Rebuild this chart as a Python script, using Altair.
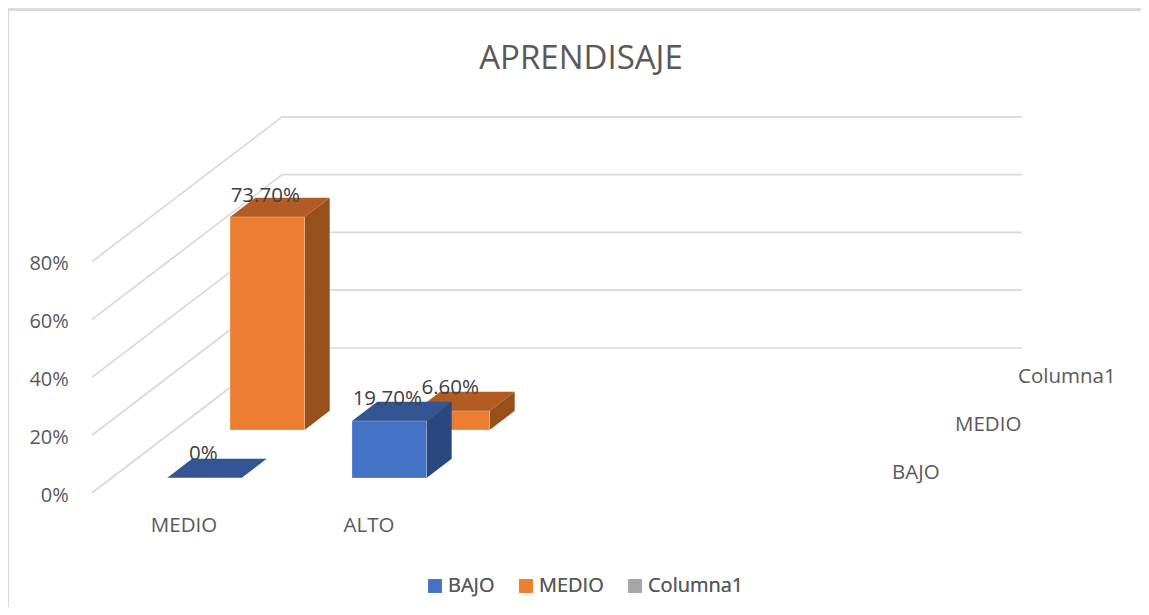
import altair as alt
import pandas as pd

TITLE = "APRENDISAJE"
categories = ["MEDIO", "ALTO"]
series = ["BAJO", "MEDIO", "Columna1"]
bajo = [0.0, 19.7]
medio = [73.7, 6.6]
columna1 = [None, None]
bar_labels = {"BAJO": ["0%", "19.70%"], "MEDIO": ["73.70%", "6.60%"]}
ticks = [0, 20, 40, 60, 80]
tick_labels = ["0%", "20%", "40%", "60%", "80%"]
series_colors = ["#4472C4", "#ED7D31", "#A5A5A5"]
top_colors = {"BAJO": "#335593", "MEDIO": "#B35B22"}
side_colors = {"BAJO": "#2A4780", "MEDIO": "#974F1B"}
TEXT = "#595959"
LABEL = "#404040"
GRID = "#D9D9D9"
FONT = "Open Sans"

# Oblique projection: x in category units, y in percent units
PX_CAT = 185.0      # pixels per category
PX_PCT = 2.89       # pixels per percent
SX = 63 / PX_CAT    # category units per series step in depth
SY = 48 / PX_PCT    # percent units per series step in depth
BAR_W = 74.5 / PX_CAT
BAR_D = 0.4         # bar depth in series steps
WALL_FRONT, WALL_BACK = -0.3125, 2.708
WALL_LEFT, WALL_RIGHT = -0.3, 3.7


def px(c, s=0.0):
    return c + s * SX


def py(v, s=0.0):
    return v + s * SY


W, H = 1133, 599
x_scale = alt.Scale(domain=[(8 - 167) / PX_CAT, (8 + W - 167) / PX_CAT], nice=False, zero=False)
y_scale = alt.Scale(domain=[(478 - (8 + H)) / PX_PCT, (478 - 8) / PX_PCT], nice=False, zero=False)
X = alt.X("x:Q", scale=x_scale, axis=None)
Y = alt.Y("y:Q", scale=y_scale, axis=None)

# Walls
grid_rows = []
for t in ticks:
    pts = [(px(WALL_LEFT, WALL_FRONT), py(t, WALL_FRONT)),
           (px(WALL_LEFT, WALL_BACK), py(t, WALL_BACK)),
           (px(WALL_RIGHT, WALL_BACK), py(t, WALL_BACK))]
    for k, (a, b) in enumerate(pts):
        grid_rows.append({"t": t, "k": k, "x": a, "y": b})
grid = alt.Chart(pd.DataFrame(grid_rows)).mark_line(color=GRID, strokeWidth=1.7).encode(
    x=X, y=Y, detail="t:N", order="k:Q")

layers = [grid]

border = [
    alt.Chart(pd.DataFrame({"a": [0]})).mark_rule(color=GRID, strokeWidth=2).encode(
        x=alt.value(0), x2=alt.value(W), y=alt.value(2)),
    alt.Chart(pd.DataFrame({"a": [0]})).mark_rule(color=GRID, strokeWidth=2).encode(
        x=alt.value(0), y=alt.value(2), y2=alt.value(H)),
]
layers = border + layers

values = {"BAJO": bajo, "MEDIO": medio, "Columna1": columna1}
for sn in ["MEDIO", "BAJO"]:
    s = series.index(sn)
    side_rows, top_rows, fr = [], [], []
    for i, v in enumerate(values[sn]):
        x0, x1 = px(i, s), px(i, s) + BAR_W
        ddx, ddy = BAR_D * SX, BAR_D * SY
        side_rows += [
            {"b": i, "x": x1, "y": py(v, s), "y2": py(0, s)},
            {"b": i, "x": x1 + ddx, "y": py(v, s) + ddy, "y2": py(0, s) + ddy},
        ]
        top_rows += [
            {"b": i, "y": py(v, s), "x": x0, "x2": x1},
            {"b": i, "y": py(v, s) + ddy, "x": x0 + ddx, "x2": x1 + ddx},
        ]
        fr.append({"serie": sn, "x": x0, "x2": x1, "y": py(0, s), "y2": py(v, s)})
    layers.append(alt.Chart(pd.DataFrame(side_rows)).mark_area(
        orient="vertical", color=side_colors[sn]).encode(
        x=X, y=Y, y2=alt.Y2("y2:Q"), detail="b:N"))
    layers.append(alt.Chart(pd.DataFrame(top_rows)).mark_area(
        orient="horizontal", color=top_colors[sn]).encode(
        y=Y, x=X, x2=alt.X2("x2:Q"), detail="b:N"))
    layers.append(alt.Chart(pd.DataFrame(fr)).mark_rect(
        stroke="white", strokeOpacity=0.25, strokeWidth=1).encode(
        x=X, x2=alt.X2("x2:Q"), y=Y, y2=alt.Y2("y2:Q"),
        color=alt.Color("serie:N",
                        scale=alt.Scale(domain=series, range=series_colors),
                        legend=alt.Legend(
                            title=None, orient="none", direction="horizontal",
                            columns=3, legendX=417, legendY=568,
                            symbolType="square", symbolSize=185, symbolStrokeWidth=0,
                            symbolOpacity=1, labelFont=FONT, labelFontSize=20,
                            labelColor=TEXT, labelOffset=3, columnPadding=21,
                            padding=0, symbolOffset=0))))


def text_layer(rows, size, color=TEXT, align="center"):
    return alt.Chart(pd.DataFrame(rows)).mark_text(
        font=FONT, fontSize=size, color=color, align=align, baseline="middle").encode(
        x=X, y=Y, text="t:N")


# data labels
nudge = {("BAJO", 0): (-1, 24), ("BAJO", 1): (-2, 22), ("MEDIO", 0): (-2, 21), ("MEDIO", 1): (-2, 23)}
lab_rows = []
for sn in ["MEDIO", "BAJO"]:
    s = series.index(sn)
    for i, v in enumerate(values[sn]):
        n = nudge[(sn, i)]
        lab_rows.append({"t": bar_labels[sn][i],
                         "x": px(i, s) + BAR_W / 2 + n[0] / PX_CAT,
                         "y": py(v, s) + n[1] / PX_PCT})
layers.append(text_layer(lab_rows, 20.5, LABEL))

# value axis labels
layers.append(text_layer(
    [{"t": l, "x": px(WALL_LEFT, WALL_FRONT) - 23 / PX_CAT, "y": py(t, WALL_FRONT) - 2.5 / PX_PCT}
     for t, l in zip(ticks, tick_labels)], 20, TEXT, "right"))

# category labels
layers.append(text_layer(
    [{"t": c, "x": i + 17 / PX_CAT, "y": -48 / PX_PCT} for i, c in enumerate(categories)], 20.5))

# depth-axis labels
layers.append(text_layer(
    [{"t": sn, "x": px((892 - 167) / PX_CAT, k), "y": py(5 / PX_PCT, k)} for k, sn in enumerate(series)],
    20.5, TEXT, "left"))

chart = alt.layer(*layers).resolve_scale(color="independent").properties(
    width=W, height=H,
    padding=0,
    autosize=alt.AutoSizeParams(type="none"),
    title=alt.TitleParams(TITLE, anchor="middle", offset=-68, dx=6.5, font=FONT,
                          fontSize=33, fontWeight="normal", color=TEXT),
).configure_view(stroke=None).configure(background="white")

chart.save("out.html", embed_options={"renderer": "svg", "actions": False})
